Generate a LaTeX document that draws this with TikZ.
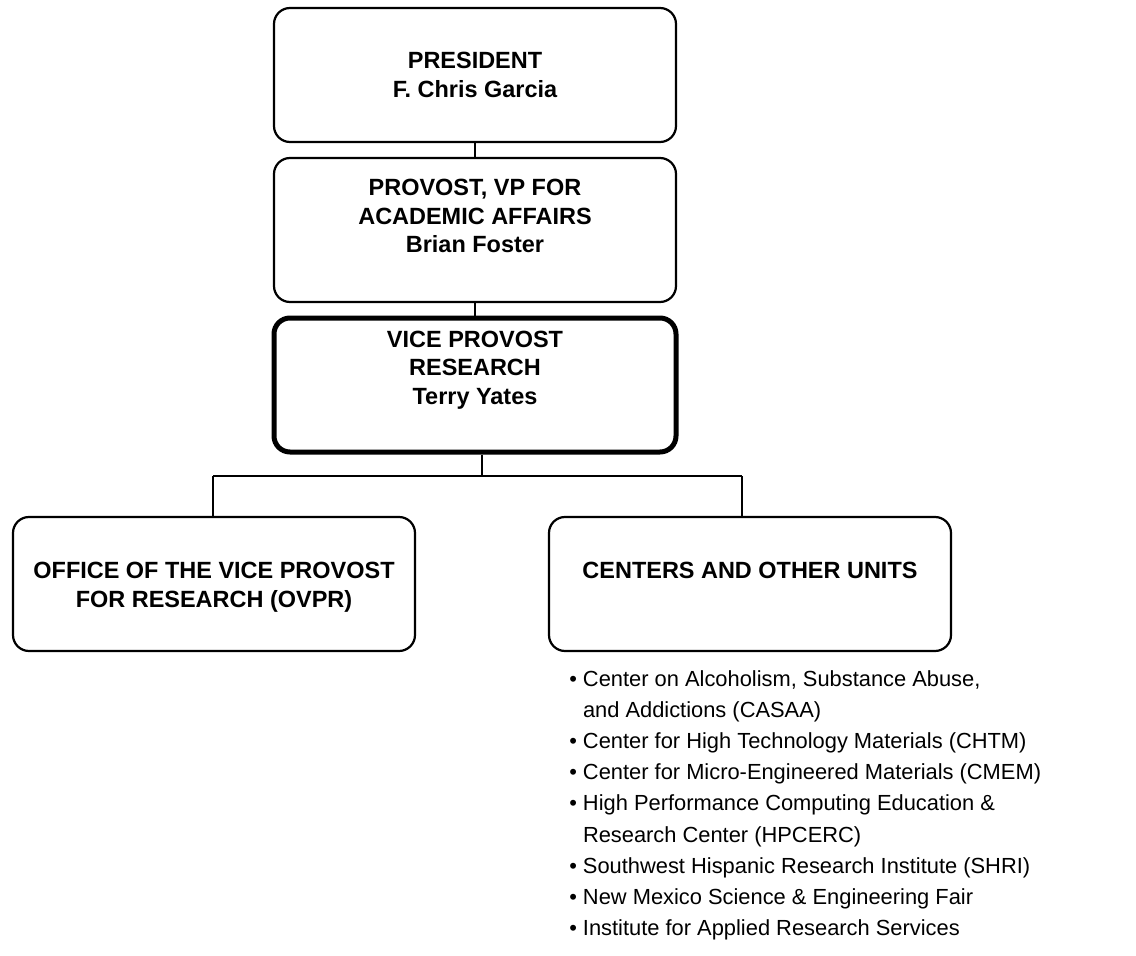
\documentclass[tikz,border=0pt]{standalone}
\usepackage{fontspec}
\setmainfont{Liberation Sans}
\usetikzlibrary{calc}
\def\pxu{0.75pt}
\tikzset{
  orgbox/.style={draw=black, line width=2.2*\pxu, rounded corners=16*\pxu,
    minimum width=402*\pxu, inner sep=0pt},
  vpbox/.style={orgbox, line width=5*\pxu},
  title/.style={align=center, inner sep=0pt, font=\fontsize{17.6pt}{21.4pt}\selectfont\bfseries},
  listtext/.style={align=left, inner sep=0pt, anchor=north west,
    font=\fontsize{16.4pt}{23.4pt}\selectfont},
  conn/.style={draw=black, line width=2*\pxu}
}
\begin{document}
\begin{tikzpicture}[x=0.75pt, y=-0.75pt]
\useasboundingbox (0,0) rectangle (1136,956);
% boxes
\node[orgbox, minimum height=134*\pxu] (pres) at (475,75) {};
\node[orgbox, minimum height=144*\pxu] (prov) at (475,230) {};
\node[vpbox, minimum height=134*\pxu] (vp) at (475,385) {};
\node[orgbox, minimum height=134*\pxu] (ovpr) at (214,584) {};
\node[orgbox, minimum height=134*\pxu] (cent) at (750,584) {};
% texts
\node[title] (presT) at (475,75) {PRESIDENT\\F. Chris Garcia};
\node[title] (provT) at (475,216) {PROVOST, VP FOR\\ACADEMIC AFFAIRS\\Brian Foster};
\node[title] (vpT) at (475,370) {VICE PROVOST\\RESEARCH\\Terry Yates};
\node[title] (ovprT) at (214,587) {OFFICE OF THE VICE PROVOST\\FOR RESEARCH (OVPR)};
\node[title] (centT) at (750,570) {CENTERS AND OTHER UNITS};
\node[listtext] (list) at (569,670) {%
\textbullet\ Center on Alcoholism, Substance Abuse,\\
\hphantom{\textbullet\ }and Addictions (CASAA)\\
\textbullet\ Center for High Technology Materials (CHTM)\\
\textbullet\ Center for Micro-Engineered Materials (CMEM)\\
\textbullet\ High Performance Computing Education \&\\
\hphantom{\textbullet\ }Research Center (HPCERC)\\
\textbullet\ Southwest Hispanic Research Institute (SHRI)\\
\textbullet\ New Mexico Science \& Engineering Fair\\
\textbullet\ Institute for Applied Research Services};
% connectors
\coordinate (j) at (482,476);
\coordinate (jl) at (213,476);
\coordinate (jr) at (742,476);
\draw[conn] (pres.south) -- (prov.north);
\draw[conn] (prov.south) -- (vp.north);
\draw[conn] (vp.south -| j) -- (j);
\draw[conn] (jl) -- (jr);
\draw[conn] (jl) -- (jl |- ovpr.north);
\draw[conn] (jr) -- (jr |- cent.north);
\end{tikzpicture}
\end{document}
